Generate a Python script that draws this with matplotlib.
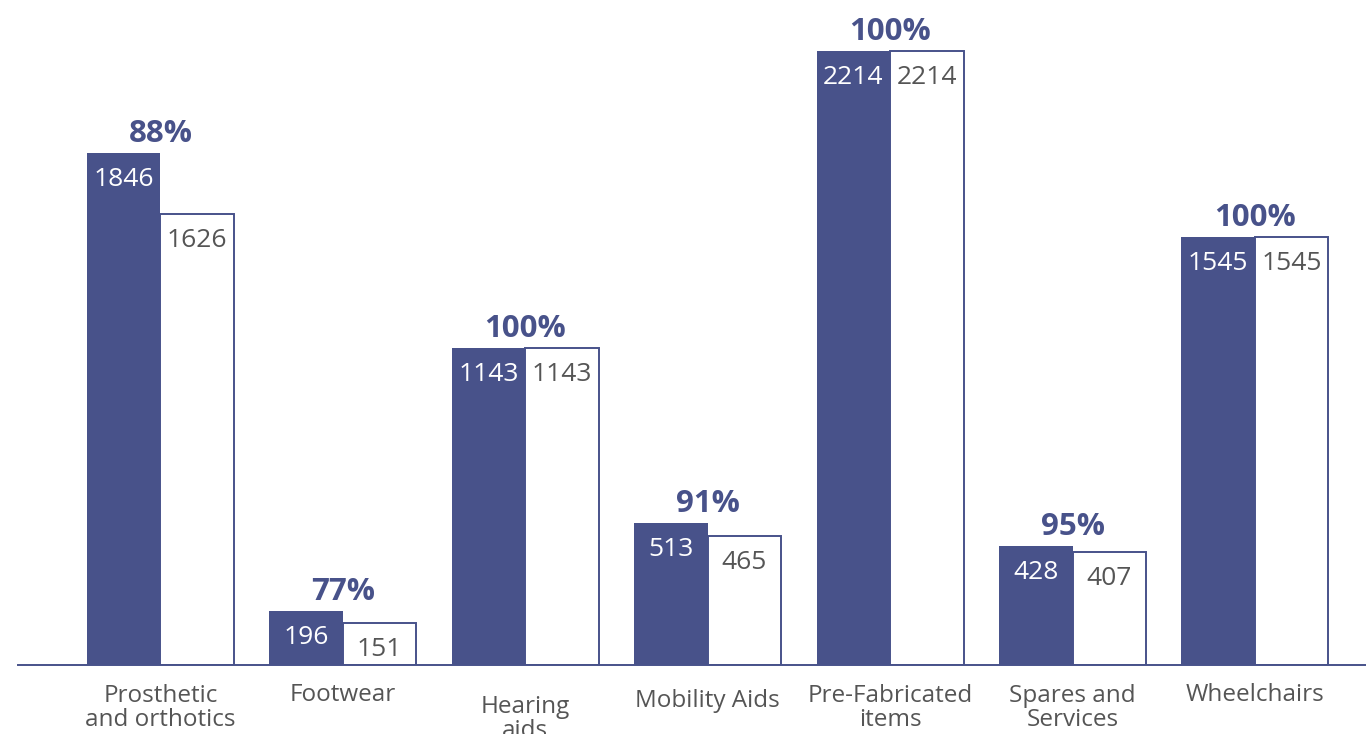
import matplotlib
matplotlib.use("Agg")
import matplotlib.pyplot as plt
import numpy as np

# Assistive product categories and counts
categories = ["Prosthetic\nand orthotics", "Footwear", "Hearing\naids", "Mobility Aids",
              "Pre-Fabricated\nitems", "Spares and\nServices", "Wheelchairs"]
requested = [1846, 196, 1143, 513, 2214, 428, 1545]
delivered = [1626, 151, 1143, 465, 2214, 407, 1545]
percent_labels = ["88%", "77%", "100%", "91%", "100%", "95%", "100%"]
# extra downward shift (px) for some category labels
label_shift = [0, 0, 11, 6, 0, 0, 0]

NAVY = "#48528a"
GRAY = "#555555"
plt.rcParams["font.family"] = ["Open Sans", "DejaVu Sans"]

W, H = 1366, 734
PT = 72 / 100  # points per pixel at 100 dpi
fig = plt.figure(figsize=(W / 100, H / 100), dpi=100)
ax = fig.add_axes([18 / W, (H - 665) / H, 1 - 18 / W, 665 / H])

x = np.arange(len(categories))
bw = 0.403

ax.bar(x - bw / 2, requested, width=bw, color=NAVY, edgecolor=NAVY, linewidth=0)
ax.bar(x + bw / 2, delivered, width=bw, color="white", edgecolor=NAVY, linewidth=1.4)

ymax = 2214 * 665 / 614
ax.set_xlim(-0.781, 6.609)
ax.set_ylim(0, ymax)

for i in range(len(categories)):
    ax.annotate(str(requested[i]), (x[i] - bw / 2, requested[i]), xytext=(0, -33 * PT),
                textcoords="offset points", ha="center", va="baseline",
                color="white", fontsize=19)
    ax.annotate(str(delivered[i]), (x[i] + bw / 2, delivered[i]), xytext=(0, -33 * PT),
                textcoords="offset points", ha="center", va="baseline",
                color=GRAY, fontsize=19)
    top = max(requested[i], delivered[i])
    ax.annotate(percent_labels[i], (x[i], top), xytext=(0, 11 * PT),
                textcoords="offset points", ha="center", va="baseline",
                color=NAVY, fontsize=22.5, fontweight="bold")
    # multi-line text aligns on the last baseline; lines are 25 px apart
    nlines = categories[i].count("\n") + 1
    off = 36 + label_shift[i] + 25 * (nlines - 1)
    ax.annotate(categories[i], (x[i], 0), xytext=(0, -off * PT),
                textcoords="offset points", ha="center", va="baseline",
                color=GRAY, fontsize=17.5, linespacing=1.0, annotation_clip=False)

for s in ["top", "right", "left"]:
    ax.spines[s].set_visible(False)
ax.spines["bottom"].set_color(NAVY)
ax.spines["bottom"].set_linewidth(1.4)
ax.set_xticks([])
ax.set_yticks([])

fig.savefig("out.png", dpi=100)
